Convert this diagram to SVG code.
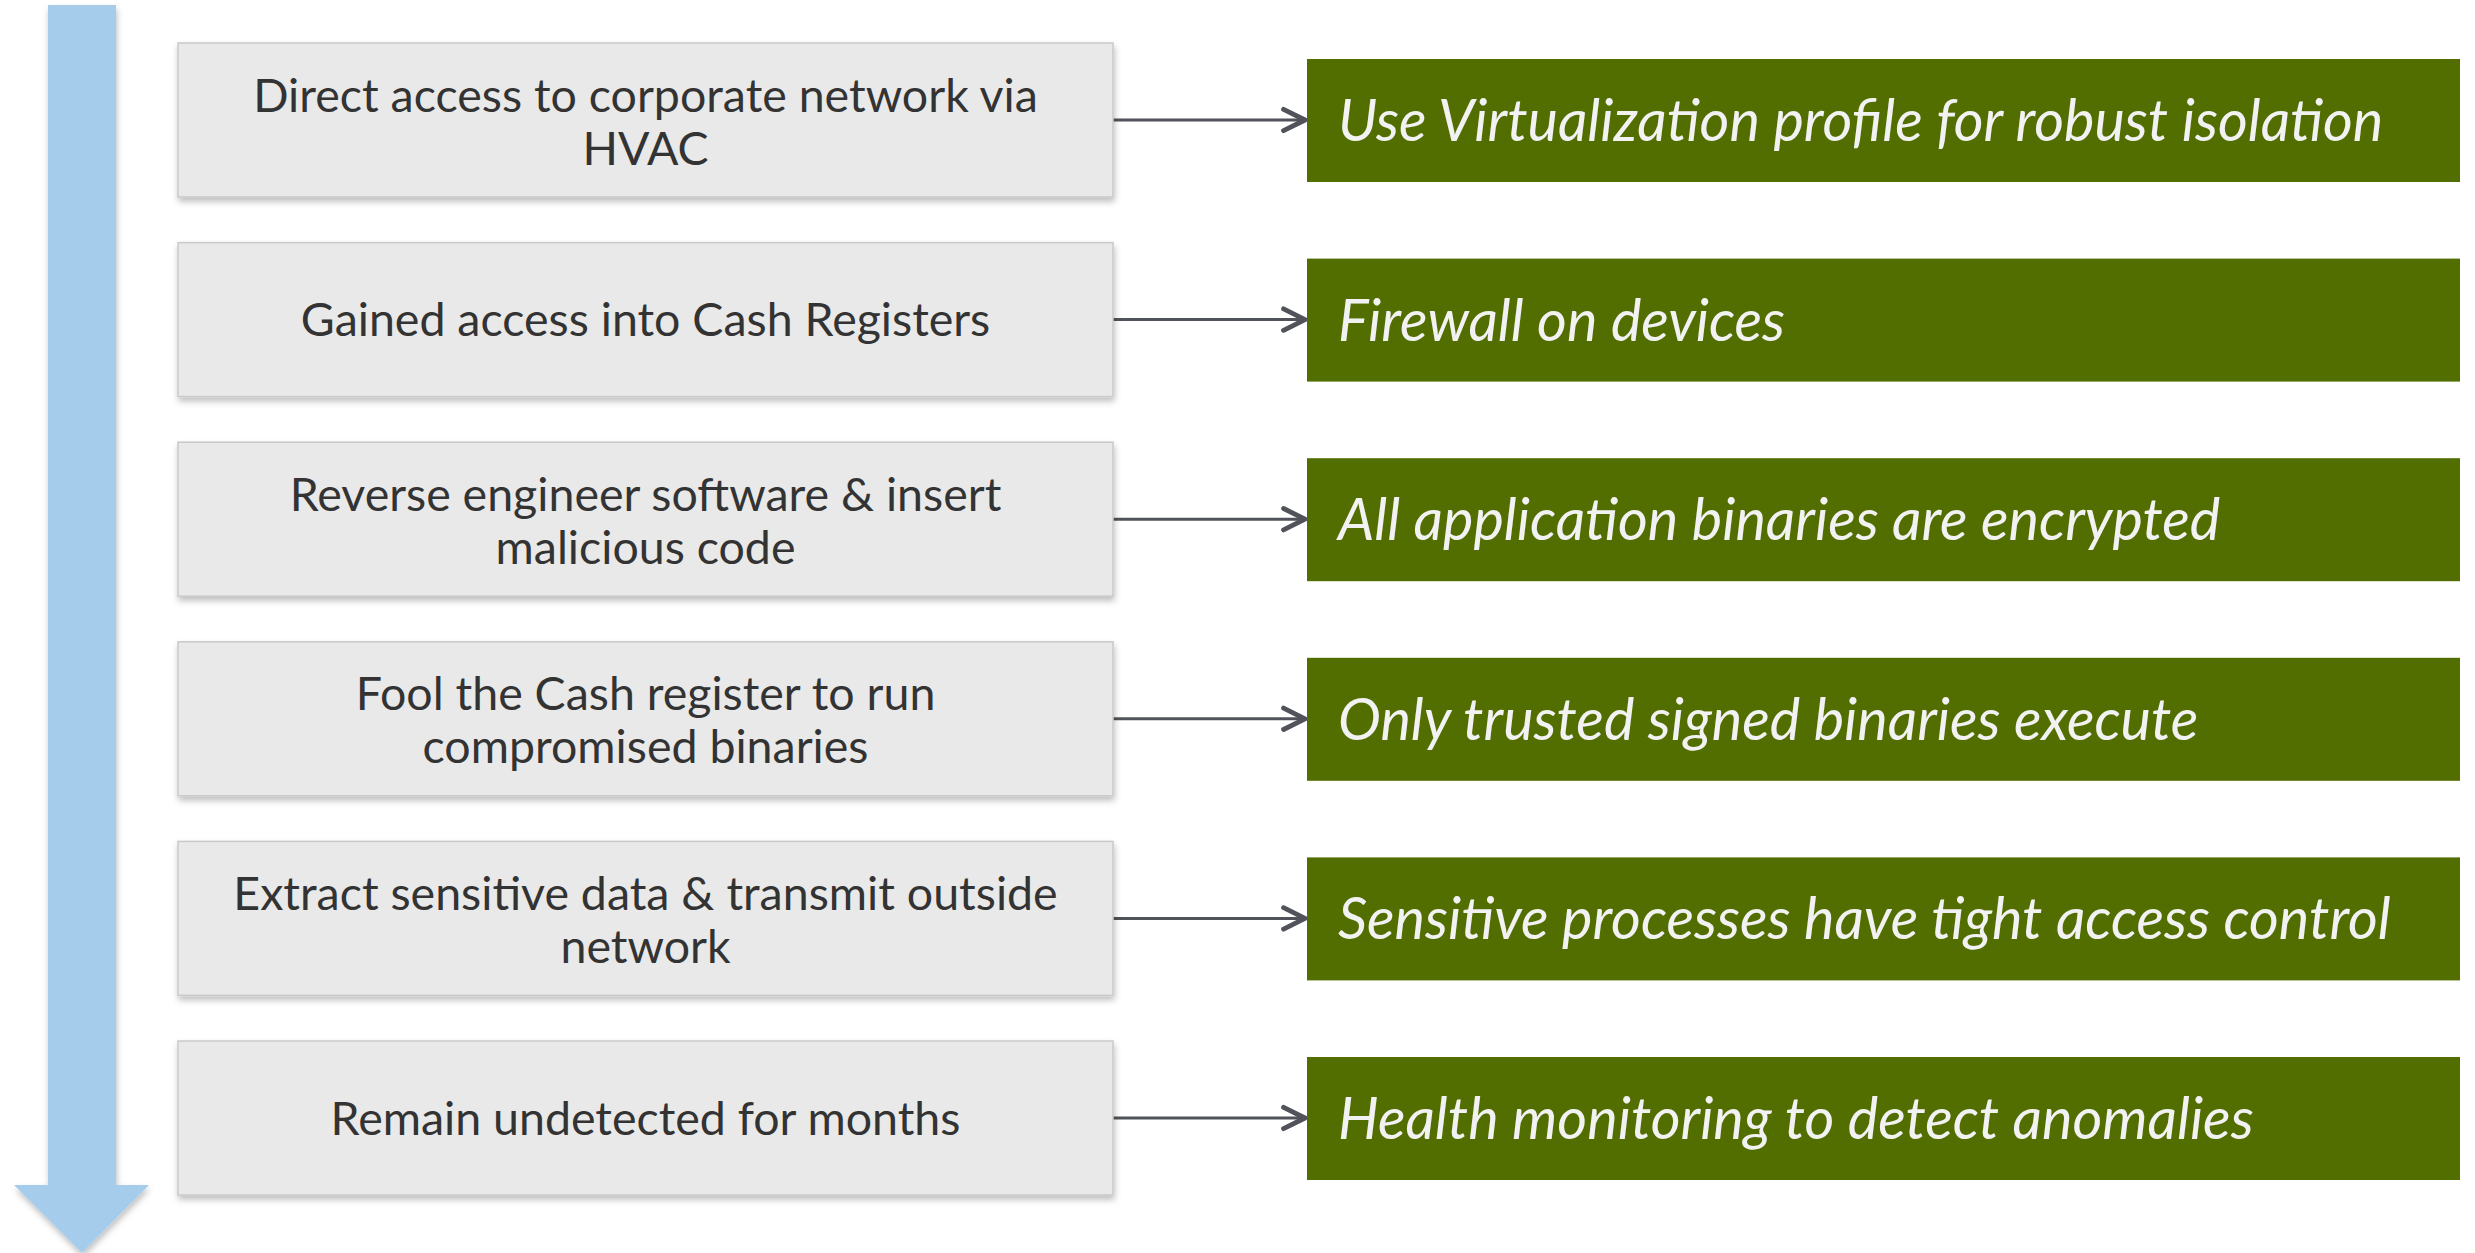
<svg xmlns="http://www.w3.org/2000/svg" width="2475" height="1253" viewBox="0 0 2475 1253">
<defs>
<style>
.gbox{fill:#E9E9E9;stroke:#C9C9C9;stroke-width:1.5}
.green{fill:#526E00}
.gt{font-family:Lato,"Open Sans",sans-serif;font-size:46.5px;fill:#333333;text-anchor:middle}
.wt{font-family:Lato,"Open Sans",sans-serif;font-size:57.5px;font-style:italic;fill:#F2F2F2}
.conn{stroke:#505359;stroke-width:3;fill:none}
</style>
<filter id="sh" x="-5%" y="-10%" width="110%" height="130%">
<feDropShadow dx="1" dy="4" stdDeviation="3" flood-color="#000" flood-opacity="0.25"/>
</filter>
<marker id="chev" markerUnits="userSpaceOnUse" markerWidth="30" markerHeight="30" viewBox="-24 -14 28 28" refX="0" refY="0" orient="auto">
<path d="M-20,-10 L0,0 L-20,10" fill="none" stroke="#505359" stroke-width="4.5" stroke-linecap="round" stroke-linejoin="round"/>
</marker>
</defs>
<rect width="2475" height="1253" fill="#FFFFFF"/>
<g id="timeline">
<polygon points="48,5 116,5 116,1185 149,1185 82,1253 14,1185 48,1185" fill="#A6CCEC" filter="url(#sh)"/>
</g>
<g id="connectors">
<line class="conn" x1="1113" y1="120" x2="1305" y2="120" marker-end="url(#chev)"/>
<line class="conn" x1="1113" y1="319.6" x2="1305" y2="319.6" marker-end="url(#chev)"/>
<line class="conn" x1="1113" y1="519.2" x2="1305" y2="519.2" marker-end="url(#chev)"/>
<line class="conn" x1="1113" y1="718.8" x2="1305" y2="718.8" marker-end="url(#chev)"/>
<line class="conn" x1="1113" y1="918.4" x2="1305" y2="918.4" marker-end="url(#chev)"/>
<line class="conn" x1="1113" y1="1118" x2="1305" y2="1118" marker-end="url(#chev)"/>
</g>
<g id="threat1"><rect class="gbox" x="178" y="43" width="935" height="154" filter="url(#sh)"/>
<text class="gt" x="645.5" y="111.5">Direct access to corporate network via</text>
<text class="gt" x="645.5" y="164.5">HVAC</text></g>
<g id="threat2"><rect class="gbox" x="178" y="242.6" width="935" height="154" filter="url(#sh)"/>
<text class="gt" x="645.5" y="336">Gained access into Cash Registers</text></g>
<g id="threat3"><rect class="gbox" x="178" y="442.2" width="935" height="154" filter="url(#sh)"/>
<text class="gt" x="645.5" y="510.7">Reverse engineer software &amp; insert</text>
<text class="gt" x="645.5" y="563.7">malicious code</text></g>
<g id="threat4"><rect class="gbox" x="178" y="641.8" width="935" height="154" filter="url(#sh)"/>
<text class="gt" x="645.5" y="710.3">Fool the Cash register to run</text>
<text class="gt" x="645.5" y="763.3">compromised binaries</text></g>
<g id="threat5"><rect class="gbox" x="178" y="841.4" width="935" height="154" filter="url(#sh)"/>
<text class="gt" x="645.5" y="909.9">Extract sensitive data &amp; transmit outside</text>
<text class="gt" x="645.5" y="962.9">network</text></g>
<g id="threat6"><rect class="gbox" x="178" y="1041" width="935" height="154" filter="url(#sh)"/>
<text class="gt" x="645.5" y="1134.5">Remain undetected for months</text></g>
<g id="mitigation1"><rect class="green" x="1307" y="59" width="1153" height="123"/>
<text class="wt" x="1338" y="141">Use Virtualization profile for robust isolation</text></g>
<g id="mitigation2"><rect class="green" x="1307" y="258.6" width="1153" height="123"/>
<text class="wt" x="1338" y="340.6">Firewall on devices</text></g>
<g id="mitigation3"><rect class="green" x="1307" y="458.2" width="1153" height="123"/>
<text class="wt" x="1338" y="540.2">All application binaries are encrypted</text></g>
<g id="mitigation4"><rect class="green" x="1307" y="657.8" width="1153" height="123"/>
<text class="wt" x="1338" y="739.8">Only trusted signed binaries execute</text></g>
<g id="mitigation5"><rect class="green" x="1307" y="857.4" width="1153" height="123"/>
<text class="wt" x="1338" y="939.4">Sensitive processes have tight access control</text></g>
<g id="mitigation6"><rect class="green" x="1307" y="1057" width="1153" height="123"/>
<text class="wt" x="1338" y="1139">Health monitoring to detect anomalies</text></g>
</svg>
